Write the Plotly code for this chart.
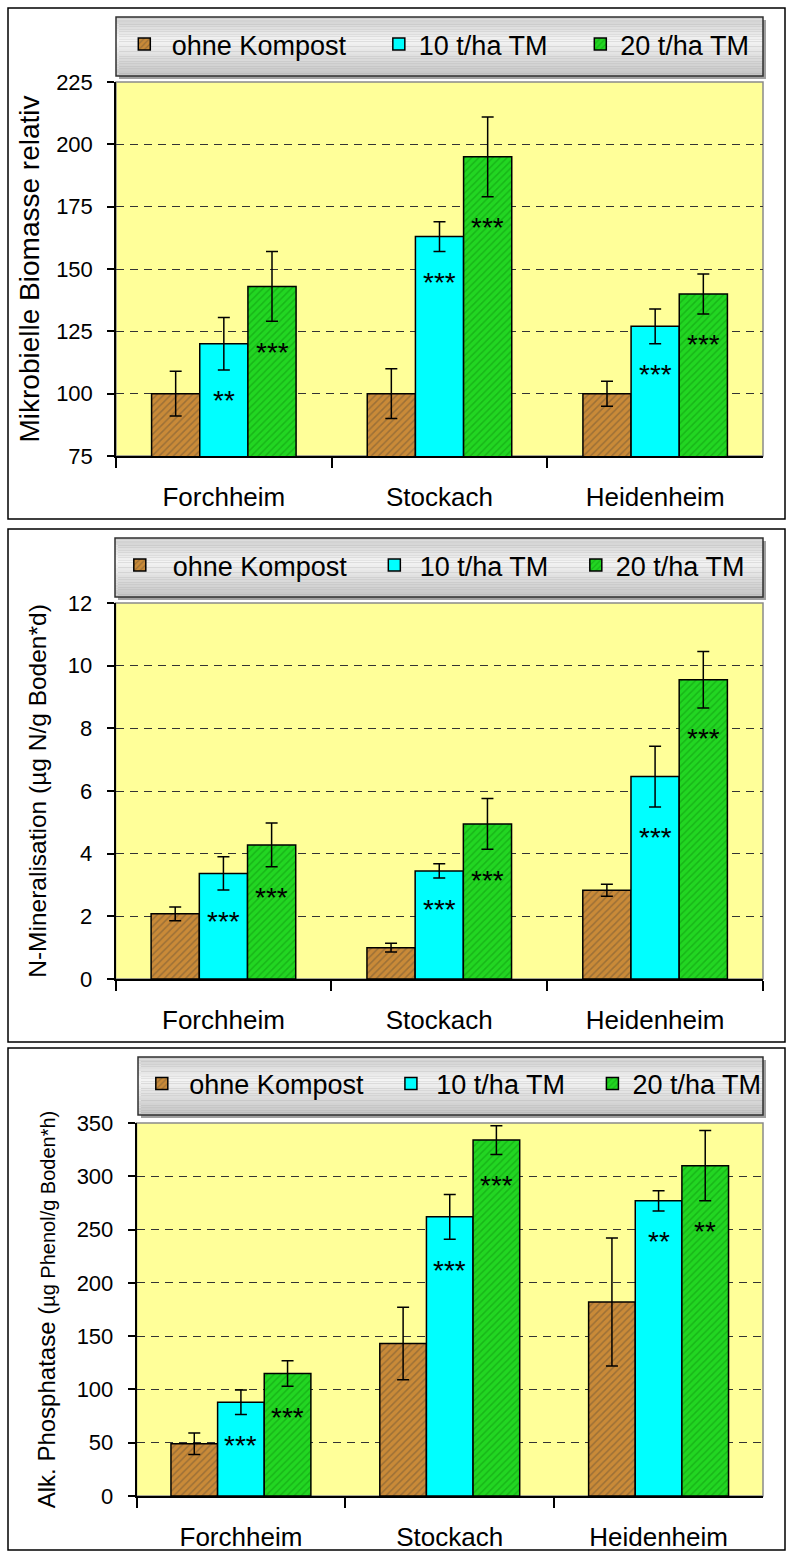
import plotly.graph_objects as go

W, H = 787, 1553

# ---------------- data ----------------
locations = ["Forchheim", "Stockach", "Heidenheim"]
treatments = ["ohne Kompost", "10 t/ha TM", "20 t/ha TM"]

# Panel 1: Mikrobielle Biomasse relativ
bio_ohne = [100, 100, 100]
bio_ohne_err = [9, 10, 5]
bio_10 = [120, 163, 127]
bio_10_err = [10.5, 6, 7]
bio_20 = [143, 195, 140]
bio_20_err = [14, 16, 8]
bio_sig_10 = ["**", "***", "***"]
bio_sig_20 = ["***", "***", "***"]
bio_ticks = [75, 100, 125, 150, 175, 200, 225]

# Panel 2: N-Mineralisation
nmin_ohne = [2.08, 1.0, 2.83]
nmin_ohne_err = [0.22, 0.14, 0.19]
nmin_10 = [3.37, 3.45, 6.46]
nmin_10_err = [0.53, 0.23, 0.97]
nmin_20 = [4.28, 4.95, 9.55]
nmin_20_err = [0.7, 0.81, 0.9]
nmin_sig_10 = ["***", "***", "***"]
nmin_sig_20 = ["***", "***", "***"]
nmin_ticks = [0, 2, 4, 6, 8, 10, 12]

# Panel 3: Alk. Phosphatase
pho_ohne = [49, 143, 182]
pho_ohne_err = [10, 34, 60]
pho_10 = [88, 262, 277]
pho_10_err = [11.5, 21, 9.5]
pho_20 = [115, 334, 310]
pho_20_err = [12, 13.5, 33]
pho_sig_10 = ["***", "***", "**"]
pho_sig_20 = ["***", "***", "**"]
pho_ticks = [0, 50, 100, 150, 200, 250, 300, 350]

# ---------------- styles ----------------
FONT = "Liberation Sans, Arial, sans-serif"
BARGAP = 0.33
BW = (1 - BARGAP) / 3
NB = "\u00a0"
TH = "\u2009"

styles = [
    dict(bg="#C98A38", fg="#6E5535"),   # ohne Kompost
    dict(bg="#00FFFF", fg=None),        # 10 t/ha TM
    dict(bg="#22D622", fg="#0E960E"),   # 20 t/ha TM
]


def px_x(p):
    return p / W


def px_y(p):
    return 1 - p / H


panels = [
    dict(vals=[bio_ohne, bio_10, bio_20], errs=[bio_ohne_err, bio_10_err, bio_20_err],
         sig=[None, bio_sig_10, bio_sig_20], ticks=bio_ticks, rng=[75, 225],
         title="Mikrobielle Biomasse relativ", title_size=28, title_standoff=8,
         plot=(116, 82, 763, 456), legend_box=(116, 17, 763, 76), frame=(8, 8, 785, 519),
         leg_x=124.3,
         lead=[NB, "", ""], trail=[NB * 3 + TH, NB * 3 + TH, ""]),
    dict(vals=[nmin_ohne, nmin_10, nmin_20], errs=[nmin_ohne_err, nmin_10_err, nmin_20_err],
         sig=[None, nmin_sig_10, nmin_sig_20], ticks=nmin_ticks, rng=[0, 12],
         title="N-Mineralisation (µg N/g Boden*d)", title_size=24.5, title_standoff=14,
         plot=(115.5, 603, 763, 979), legend_box=(115, 538, 763, 597), frame=(8, 529, 785, 1042),
         leg_x=119.8,
         lead=[NB + TH, TH, ""], trail=[NB * 3, NB * 3, ""]),
    dict(vals=[pho_ohne, pho_10, pho_20], errs=[pho_ohne_err, pho_10_err, pho_20_err],
         sig=[None, pho_sig_10, pho_sig_20], ticks=pho_ticks, rng=[0, 350],
         title="Alk. Phosphatase (<span style='font-size:20px'>µg Phenol/g Boden*h)</span>",
         title_size=24, title_standoff=14,
         plot=(136.5, 1123, 763, 1496), legend_box=(138, 1057, 763, 1115), frame=(8, 1048, 785, 1550),
         leg_x=141.8,
         lead=[NB, TH, ""], trail=[NB * 3, NB * 3, ""]),
]

fig = go.Figure()
shapes = []
annotations = []

for k, p in enumerate(panels):
    sfx = "" if k == 0 else str(k + 1)
    xa, ya = "x" + sfx, "y" + sfx
    leg = "legend" + sfx
    for j in range(3):
        st = styles[j]
        marker = dict(color=st["bg"], line=dict(color="black", width=1.5))
        if st["fg"]:
            marker["pattern"] = dict(shape="/", fgcolor=st["fg"], bgcolor=st["bg"],
                                     size=5, solidity=0.3)
        fig.add_trace(go.Bar(
            x=locations, y=p["vals"][j], name=p["lead"][j] + treatments[j] + p["trail"][j],
            marker=marker,
            error_y=dict(type="data", array=p["errs"][j], color="black",
                         thickness=1.5, width=6),
            xaxis=xa, yaxis=ya, legend=leg, showlegend=True,
        ))
        if p["sig"][j]:
            for i, s in enumerate(p["sig"][j]):
                annotations.append(dict(
                    x=i + (j - 1) * BW, y=p["vals"][j][i] - p["errs"][j][i],
                    xref=xa, yref=ya, text=s, showarrow=False,
                    yanchor="middle", yshift=-31,
                    font=dict(family=FONT, size=28, color="black")))

    x0, y0, x1, y1 = p["plot"]
    lx0, ly0, lx1, ly1 = p["legend_box"]
    fig.update_layout(**{
        ("xaxis" + sfx): dict(
            domain=[px_x(x0), px_x(x1)], anchor=ya, type="category",
            showline=True, linecolor="black", linewidth=1.5,
            ticks="outside", ticklen=10, tickcolor="black", tickwidth=1.5,
            tickson="boundaries", ticklabelstandoff=17,
            tickfont=dict(family=FONT, size=26, color="black"),
            showgrid=False, zeroline=False, automargin=False),
        ("yaxis" + sfx): dict(
            domain=[px_y(y1), px_y(y0)], anchor=xa, range=p["rng"],
            tickvals=p["ticks"], showline=True, linecolor="black", linewidth=1.5,
            ticks="outside", ticklen=7, tickcolor="black", tickwidth=1.5,
            ticklabelstandoff=10, automargin=False,
            tickfont=dict(family=FONT, size=22, color="black"),
            showgrid=True, gridcolor="#333333", gridwidth=1, griddash="8px,6px",
            zeroline=False,
            title=dict(text=p["title"], standoff=p["title_standoff"],
                       font=dict(family=FONT, size=p["title_size"], color="black"))),
        leg: dict(orientation="h", x=px_x(p["leg_x"]), xanchor="left",
                  y=px_y((ly0 + ly1) / 2 - 2), yanchor="middle",
                  bgcolor="rgba(0,0,0,0)", borderwidth=0,
                  font=dict(family=FONT, size=27, color="black"),
                  traceorder="normal"),
    })

    # plot area background + border
    shapes.append(dict(type="rect", xref="paper", yref="paper",
                       x0=px_x(x0), x1=px_x(x1), y0=px_y(y1), y1=px_y(y0),
                       line=dict(color="#8A8A8A", width=1.5), fillcolor="#FFFF99",
                       layer="below"))

    # legend box: shadow, gradient strips, border
    shapes.append(dict(type="rect", xref="paper", yref="paper",
                       x0=px_x(lx0 + 3), x1=px_x(lx1 + 3), y0=px_y(ly1 + 3), y1=px_y(ly0 + 3),
                       line=dict(width=0), fillcolor="#A0A0A0", layer="below"))
    n = 24
    for s in range(n):
        t = (s + 0.5) / n
        if t < 0.4:
            v = 205 + (244 - 205) * (t / 0.4)
        else:
            v = 244 - (244 - 196) * ((t - 0.4) / 0.6)
        v = int(round(v))
        shapes.append(dict(type="rect", xref="paper", yref="paper",
                           x0=px_x(lx0), x1=px_x(lx1),
                           y0=px_y(ly0 + (ly1 - ly0) * (s + 1) / n),
                           y1=px_y(ly0 + (ly1 - ly0) * s / n),
                           line=dict(width=0), fillcolor=f"rgb({v},{v},{v})", layer="below"))
    shapes.append(dict(type="rect", xref="paper", yref="paper",
                       x0=px_x(lx0), x1=px_x(lx1), y0=px_y(ly1), y1=px_y(ly0),
                       line=dict(color="#303030", width=1.5), fillcolor="rgba(0,0,0,0)",
                       layer="below"))

    # outer frame
    fx0, fy0, fx1, fy1 = p["frame"]
    shapes.append(dict(type="rect", xref="paper", yref="paper",
                       x0=px_x(fx0), x1=px_x(fx1), y0=px_y(fy1), y1=px_y(fy0),
                       line=dict(color="black", width=1.5), fillcolor="rgba(0,0,0,0)",
                       layer="below"))

fig.update_layout(
    width=W, height=H,
    margin=dict(l=0, r=0, t=0, b=0, autoexpand=False),
    paper_bgcolor="white", plot_bgcolor="rgba(0,0,0,0)",
    barmode="group", bargap=BARGAP, bargroupgap=0,
    font=dict(family=FONT, color="black"),
    shapes=shapes, annotations=annotations,
)

fig.write_html(
    "out.html",
    config={"displayModeBar": False},
    post_script="document.body.style.margin='0';document.body.style.overflow='hidden';",
)
